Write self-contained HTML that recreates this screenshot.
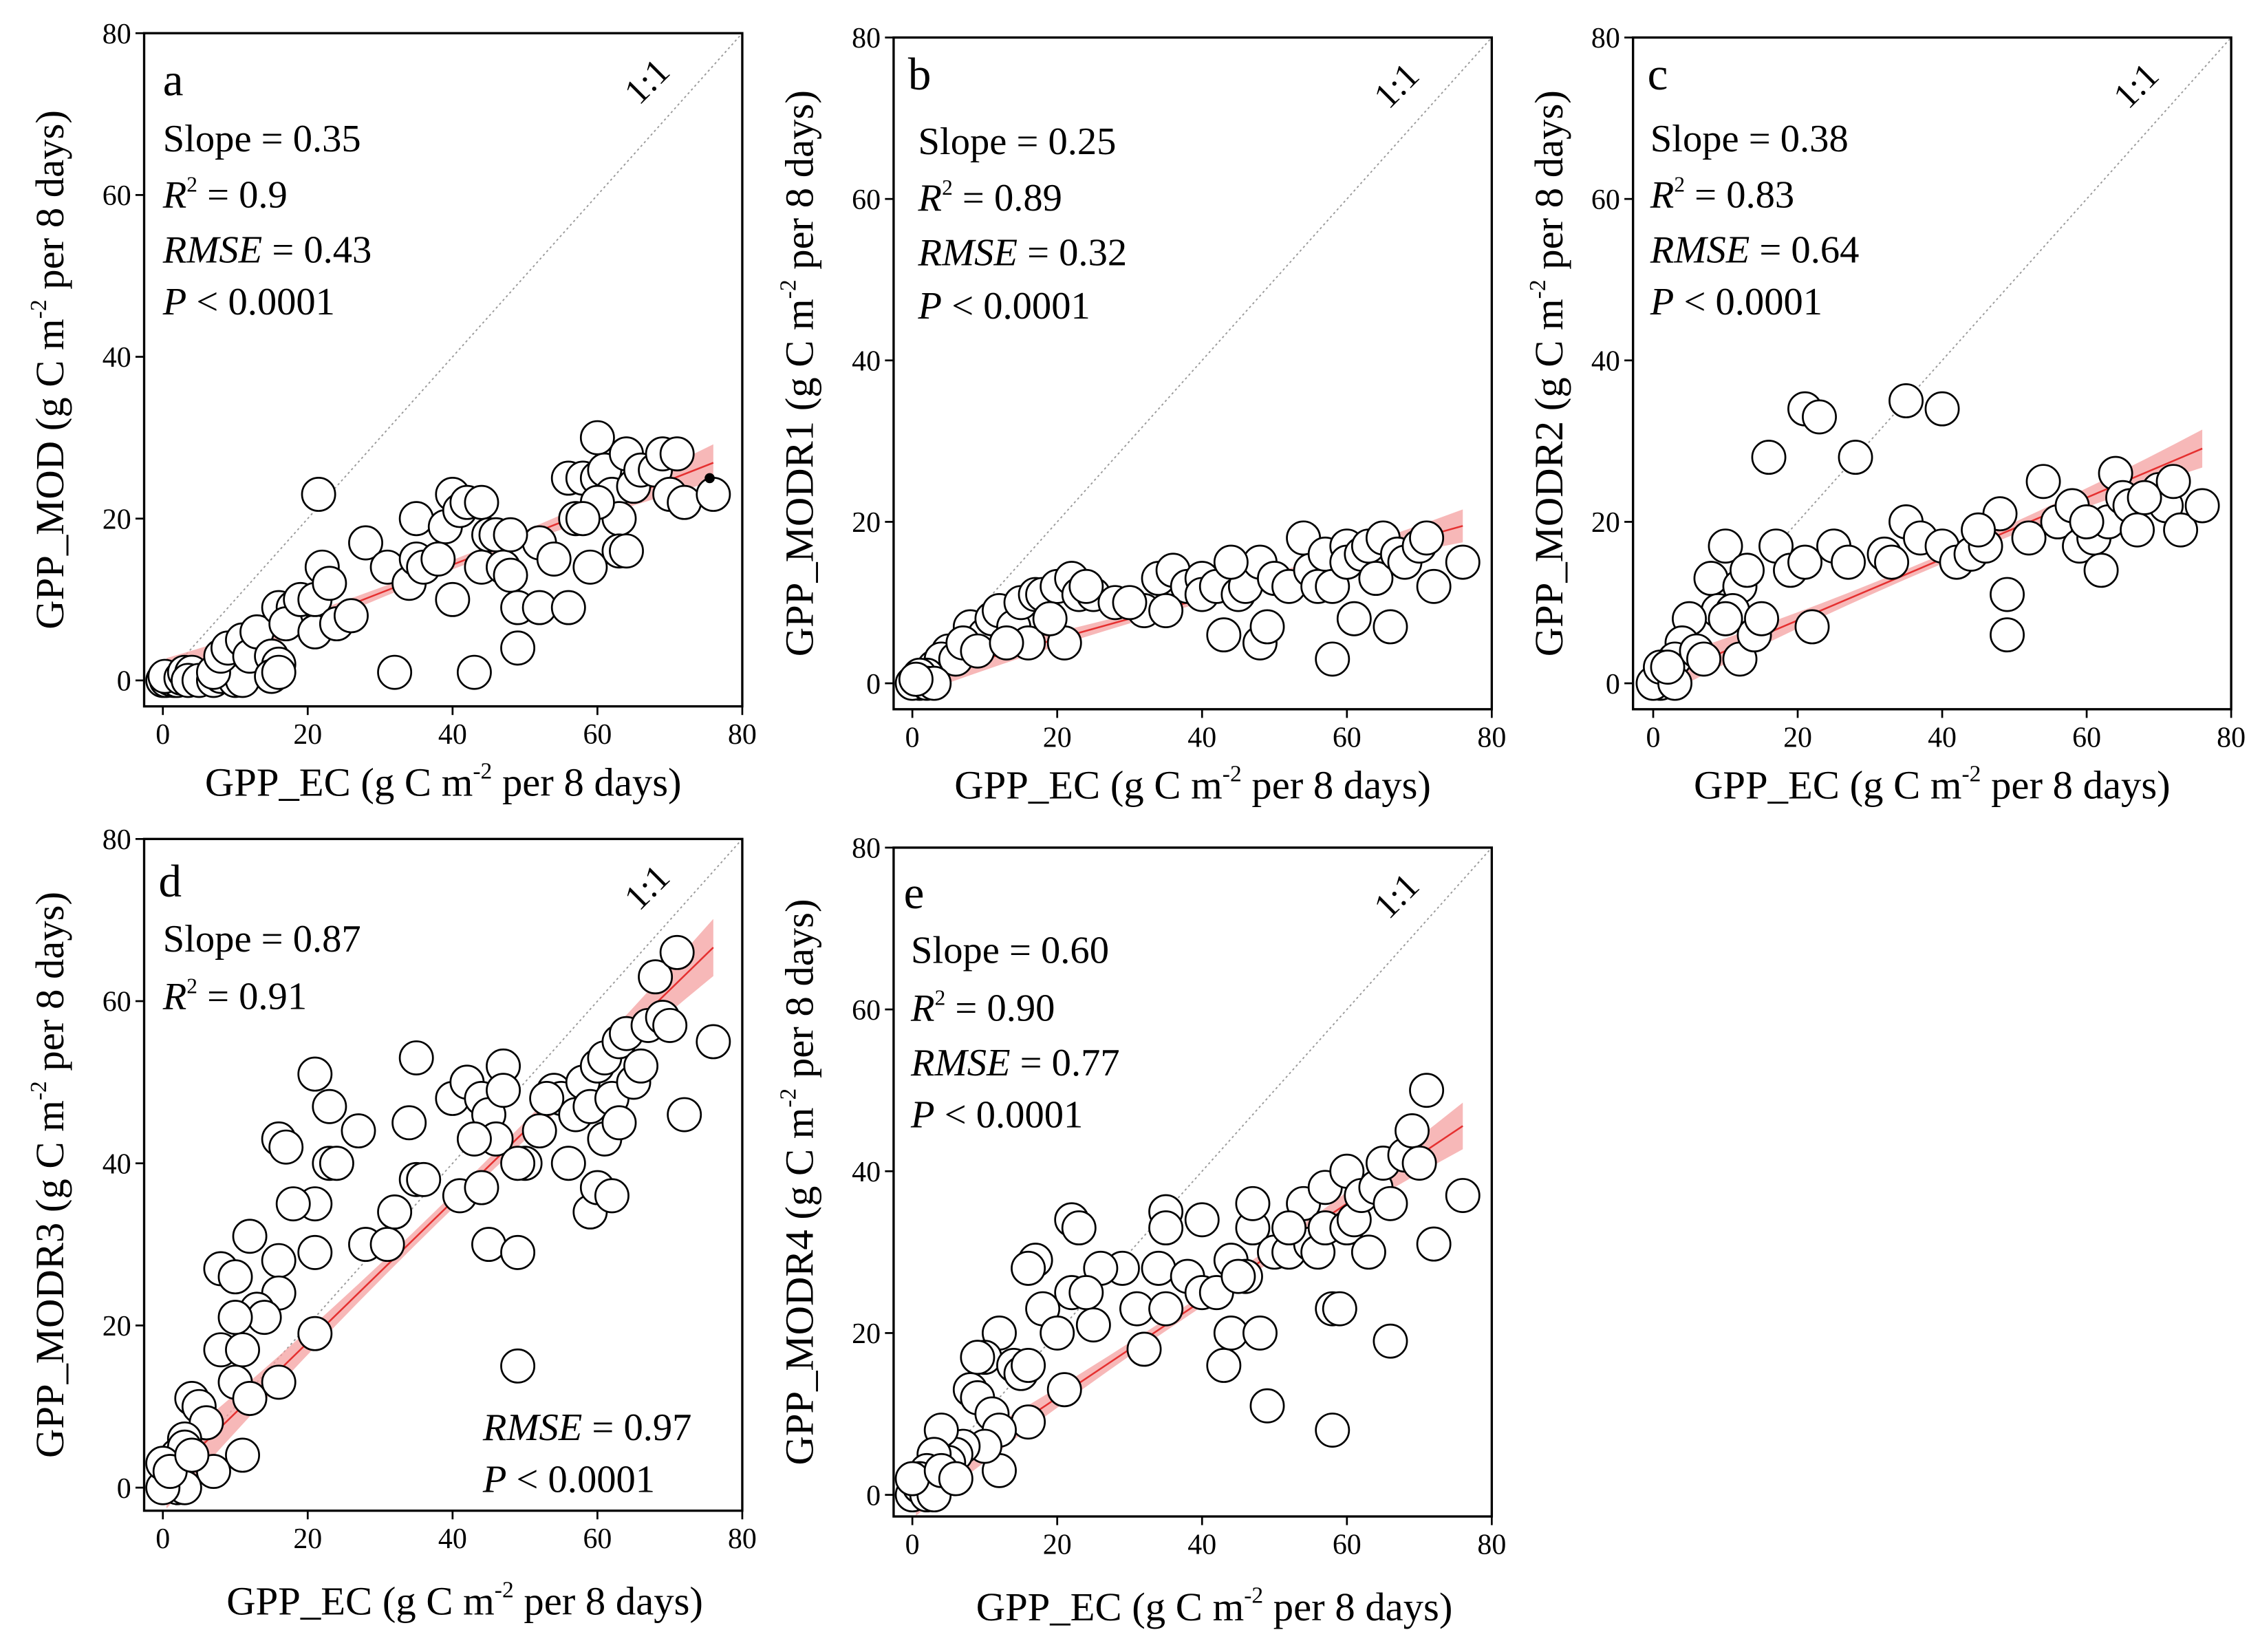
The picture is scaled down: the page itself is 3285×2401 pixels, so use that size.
<!DOCTYPE html>
<html><head><meta charset="utf-8"><style>
html,body{margin:0;padding:0;background:#fff;}
svg{display:block;font-family:"Liberation Serif","Times New Roman","DejaVu Serif",serif;}
svg text, svg tspan{font-family:"Liberation Serif","Times New Roman","DejaVu Serif",serif !important;}
</style></head><body>
<svg id="fig" width="3285" height="2401" viewBox="0 0 1568 1146" xmlns="http://www.w3.org/2000/svg"></svg>
<script>
const xTicks=[0,20,40,60,80];
const yTicks=[0,20,40,60,80];
const dataA=[[0,0],[0.5,0],[1,0.2],[1.5,0],[2,0],[0.3,0.5],[2.5,0.3],[3,1],[4,1],[3.5,0],[5,0],[7,0],[8,0.5],[10,0],[11,0],[7,1],[8,3],[9,4],[11,5],[12,3],[13,6],[15,3],[16,2],[15,0.5],[16,1],[16,9],[18,9],[17,7],[19,10],[21,6],[21,10],[22,14],[21.5,23],[23,12],[24,7],[26,8],[28,17],[31,14],[34,12],[35,15],[35,20],[36,14],[39,19],[40,10],[40,23],[41,21],[42,22],[44,22],[44,14],[45,18],[46,18],[47,14],[48,13],[49,9],[49,4],[32,1],[43,1],[52,9],[52,17],[54,15],[56,9],[56,25],[57,20],[58,25],[59,14],[60,25],[60,30],[61,26],[62,23],[63,20],[63,16],[64,16],[64,28],[65,24],[66,26],[68,26],[69,28],[70,23],[71,28],[72,22],[76,23],[60,22],[58,20],[48,18],[38,15]];
const dataB=[[5,4],[8,7],[10,6],[11,8],[12,9],[14,7],[15,10],[16,5],[17,11],[18,11],[20,12],[21,5],[22,13],[23,11],[25,11],[28,10],[32,9],[34,13],[36,14],[38,12],[40,13],[40,11],[42,12],[43,6],[45,11],[46,12],[48,15],[48,5],[49,7],[50,13],[52,12],[54,18],[55,14],[56,12],[57,16],[58,12],[58,3],[60,17],[60,15],[61,8],[62,16],[63,17],[64,13],[65,18],[66,7],[67,16],[68,15],[70,17],[71,18],[72,12],[76,15],[3,2],[4,3],[6,3],[7,5],[9,4],[13,5],[19,8],[2,1],[1,0],[0,0],[1,1],[2,0],[3,0],[0.5,0.5],[44,15],[30,10],[35,9],[24,12]];
const dataC=[[21,34],[23,33],[35,35],[40,34],[28,28],[16,28],[10,17],[8,13],[12,12],[9,9],[13,14],[17,17],[19,14],[21,15],[22,7],[25,17],[27,15],[32,16],[33,15],[35,20],[37,18],[40,17],[42,15],[44,16],[46,17],[48,21],[49,11],[49,6],[52,18],[54,25],[56,20],[58,22],[59,17],[61,18],[62,14],[63,20],[64,26],[65,23],[66,22],[67,19],[70,24],[71,22],[72,25],[73,19],[76,22],[68,23],[60,20],[5,8],[4,5],[3,3],[6,4],[7,3],[11,9],[12,3],[14,6],[15,8],[2,1],[1,0],[0,0],[1,2],[3,0],[2,2],[10,8],[45,19]];
const dataD=[[21,51],[23,47],[35,53],[16,43],[17,42],[23,40],[24,40],[27,44],[34,45],[40,48],[42,50],[44,48],[45,46],[47,52],[47,49],[46,43],[43,43],[35,38],[36,38],[41,36],[44,37],[45,30],[49,29],[49,15],[28,30],[31,30],[32,34],[21,35],[18,35],[16,28],[16,24],[21,29],[12,31],[8,27],[10,26],[13,22],[14,21],[10,21],[8,17],[11,17],[10,13],[12,11],[16,13],[21,19],[11,4],[7,2],[4,11],[5,10],[6,8],[3,6],[2,4],[3,5],[1,1],[2,0],[3,0],[0,0],[0,3],[1,2],[4,4],[50,40],[52,44],[54,49],[55,48],[56,40],[57,46],[58,50],[59,47],[59,34],[60,37],[60,52],[61,53],[61,43],[62,36],[62,48],[63,45],[63,55],[64,56],[65,50],[66,52],[67,57],[68,63],[69,58],[70,57],[71,66],[72,46],[76,55],[53,48],[49,40]];
const dataE=[[22,34],[23,33],[35,35],[35,33],[40,34],[29,28],[26,28],[17,29],[16,28],[18,23],[20,20],[22,25],[24,25],[25,21],[31,23],[32,18],[34,28],[35,23],[38,27],[40,25],[42,25],[43,16],[44,20],[44,29],[46,27],[47,33],[47,36],[48,20],[49,11],[50,30],[52,30],[54,36],[55,31],[56,30],[57,33],[57,38],[58,23],[58,8],[59,23],[60,33],[60,40],[61,34],[62,37],[63,30],[64,38],[65,41],[66,19],[66,36],[68,42],[69,45],[70,41],[71,50],[72,31],[76,37],[12,20],[10,17],[9,17],[14,16],[15,15],[16,16],[16,9],[21,13],[8,13],[9,12],[11,10],[12,8],[12,3],[10,6],[7,6],[6,5],[5,4],[4,8],[3,5],[2,3],[1,2],[0,0],[1,1],[2,0],[3,0],[0,2],[4,3],[6,2],[52,33],[45,27]];
const slopes=[0.35,0.25,0.38,0.87,0.60];
const intercepts=[0.3,0.5,0.2,0.5,0];
const yLabels=["GPP_MOD","GPP_MODR1","GPP_MODR2","GPP_MODR3","GPP_MODR4"];
const NS="http://www.w3.org/2000/svg";
const svg=document.getElementById('fig');
const FF="'Liberation Serif', 'Times New Roman', 'DejaVu Serif', serif";
function mk(tag,attrs,parent){const e=document.createElementNS(NS,tag);for(const k in attrs)e.setAttribute(k,attrs[k]);if(tag==='text')e.setAttribute('font-family',FF);(parent||svg).appendChild(e);return e;}
const panels=[
 {id:'a',data:dataA,L:100,T:23,R:515,B:490,x0:113,x80:515,y0:472,y80:23,stats:[[113,105],[113,144],[113,182],[113,218]],letter:[113,66],rmse:'0.43',r2:'0.9',ytx:35},
 {id:'b',data:dataB,L:620,T:26,R:1035,B:492,x0:633,x80:1035,y0:474,y80:26,stats:[[637,107],[637,146],[637,184],[637,221]],letter:[630,62],rmse:'0.32',r2:'0.89',ytx:555},
 {id:'c',data:dataC,L:1133,T:26,R:1548,B:492,x0:1147,x80:1548,y0:474,y80:26,stats:[[1145,105],[1145,144],[1145,182],[1145,218]],letter:[1143,62],rmse:'0.64',r2:'0.83',ytx:1075},
 {id:'d',data:dataD,L:100,T:582,R:515,B:1048,x0:113,x80:515,y0:1032,y80:582,stats:[[113,660],[113,700],[335,999],[335,1035]],letter:[110,622],rmse:'0.97',r2:'0.91',ytx:35},
 {id:'e',data:dataE,L:620,T:588,R:1035,B:1052,x0:633,x80:1035,y0:1037,y80:588,stats:[[632,668],[632,708],[632,746],[632,782]],letter:[627,630],rmse:'0.77',r2:'0.90',ytx:555}
];
panels.forEach((p,i)=>{
 const g=mk('g',{});
 
 
 const sx=v=>p.x0+(p.x80-p.x0)*v/80, sy=v=>p.y0+(p.y80-p.y0)*v/80;
 const cp=mk('clipPath',{id:'cp'+i},g);mk('rect',{x:p.L,y:p.T,width:p.R-p.L,height:p.B-p.T},cp);
 const inner=mk('g',{'clip-path':'url(#cp'+i+')'},g);
 const one=mk('line',{x1:sx(0),y1:sy(0),x2:sx(80),y2:sy(80),stroke:'#999','stroke-width':0.9,'stroke-dasharray':'1.5,2'},inner);
 
 
 const xs=p.data.map(d=>d[0]);const xmin=Math.min(...xs)+0.5,xmax=Math.max(...xs);
 const xm=(xmin+xmax)/2,half=(xmax-xmin)/2;
 const s=slopes[i],b=intercepts[i];
 const up=[],lo=[];
 for(let k=0;k<=20;k++){const x=xmin+(xmax-xmin)*k/20;const hw=(0.6+1.8*Math.pow(Math.abs(x-xm)/half,2))*(0.6+s);
  up.push(sx(x)+','+sy(s*x+b+hw));lo.unshift(sx(x)+','+sy(s*x+b-hw));}
 const band=mk('polygon',{points:up.concat(lo).join(' '),fill:'#f4a0a0','fill-opacity':0.75},inner);
 
 
 const rl=mk('line',{x1:sx(xmin),y1:sy(s*xmin+b),x2:sx(xmax),y2:sy(s*xmax+b),stroke:'#e53030','stroke-width':1.2},inner);
 
 
 p.data.forEach(d=>{
  const c=mk('circle',{cx:sx(d[0]),cy:sy(d[1]),r:11.5,fill:'#fff',stroke:'#000','stroke-width':1.3},inner);
  
  
 });
 if(p.id==='a'){const dot=mk('circle',{cx:sx(75.5),cy:sy(25),r:3.5,fill:'#000'},inner);
  
  }
 const fr=mk('rect',{x:p.L,y:p.T,width:p.R-p.L,height:p.B-p.T,fill:'none',stroke:'#000','stroke-width':1.6},g);
 
 
 xTicks.forEach(t=>{mk('line',{x1:sx(t),x2:sx(t),y1:p.B,y2:p.B+6,stroke:'#000','stroke-width':1.3},g);
  const tl=mk('text',{x:sx(t),y:p.B+26,'font-size':20,'text-anchor':'middle'},g);tl.textContent=t;
  
  });
 yTicks.forEach(t=>{mk('line',{x1:p.L-6,x2:p.L,y1:sy(t),y2:sy(t),stroke:'#000','stroke-width':1.3},g);
  const tl=mk('text',{x:p.L-9,y:sy(t)+7,'font-size':20,'text-anchor':'end'},g);tl.textContent=t;
  
  });
 const lab=mk('text',{x:sx(68),y:sy(73),'font-size':25,'text-anchor':'middle',transform:'rotate(-45 '+sx(68)+' '+sy(73)+')'},g);lab.textContent='1:1';
 
 
 const let_=mk('text',{x:p.letter[0],y:p.letter[1],'font-size':32},g);let_.textContent=p.id;
 
 
 const st=p.stats;
 const t1=mk('text',{x:st[0][0],y:st[0][1],'font-size':27},g);t1.textContent='Slope = '+slopes[i].toFixed(2);
 
 
 const t2=mk('text',{x:st[1][0],y:st[1][1],'font-size':27},g);
 t2.innerHTML='<tspan font-style="italic">R</tspan><tspan font-size="15" dy="-11">2</tspan><tspan dy="11"> = '+p.r2+'</tspan>';
 
 
 const t3=mk('text',{x:st[2][0],y:st[2][1],'font-size':27},g);
 t3.innerHTML='<tspan font-style="italic">RMSE</tspan> = '+p.rmse;
 
 
 const t4=mk('text',{x:st[3][0],y:st[3][1],'font-size':27},g);
 t4.innerHTML='<tspan font-style="italic">P</tspan> &lt; 0.0001';
 
 
 const xt=mk('text',{x:(p.L+p.R)/2+(p.id==='d'||p.id==='e'?15:0),y:p.B+(p.id==='d'||p.id==='e'?72:62),'font-size':28,'text-anchor':'middle'},g);
 xt.innerHTML='GPP_EC (g C m<tspan font-size="16" dy="-12">-2</tspan><tspan dy="12"> per 8 days)</tspan>';
 
 
 const cy=(p.T+p.B)/2;
 const yt=mk('text',{x:p.ytx,y:cy,'font-size':28,'text-anchor':'middle',transform:'rotate(-90 '+p.ytx+' '+cy+')',dy:9},g);
 yt.innerHTML=yLabels[i]+' (g C m<tspan font-size="16" dy="-12">-2</tspan><tspan dy="12"> per 8 days)</tspan>';
 
 
});
</script>
</body></html>
